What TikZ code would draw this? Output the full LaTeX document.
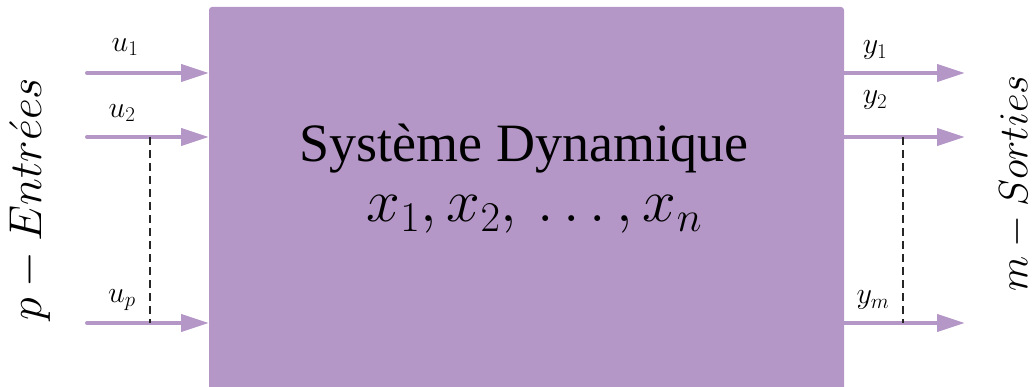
\RequirePackage{fix-cm}
\documentclass[tikz,border=0pt]{standalone}
\usepackage{fontspec}
\newfontfamily\tnr{Liberation Serif}
\usetikzlibrary{arrows.meta}
\definecolor{sysviolet}{RGB}{180,151,199}
\begin{document}
\begin{tikzpicture}[x=1pt,y=-1pt,
  sysbox/.style={fill=sysviolet, draw=none, rounded corners=3pt, anchor=north west, inner sep=0pt, outer sep=0pt},
  sig/.style={draw=sysviolet, line width=4pt, line cap=round, -{Triangle[length=28pt,width=17pt]}},
  guide/.style={draw=black!85, line width=1.1pt, dash pattern=on 8pt off 5pt},
  lbl/.style={inner sep=0pt, font=\fontsize{30}{32}\selectfont},
  side/.style={inner sep=0pt, rotate=90}]
\useasboundingbox (0,0) rectangle (1035,387);
\node[sysbox, minimum width=635pt, minimum height=393pt] (sys) at (209,7) {};
\node[anchor=base, inner sep=0pt, font=\tnr\fontsize{54}{58}\selectfont] (title) at (524,162) {Système Dynamique};
\node[anchor=base, inner sep=0pt, font=\fontsize{60.5}{62}\selectfont] (states) at (534.5,222) {$x_1, x_2,\,\ldots, x_n$};
% inputs
\coordinate (i1) at (87,73);
\coordinate (i2) at (87,137);
\coordinate (ip) at (87,323);
\draw[sig] (i1) -- (i1 -| sys.west);
\draw[sig] (i2) -- (i2 -| sys.west);
\draw[sig] (ip) -- (ip -| sys.west);
% outputs
\coordinate (o1) at (965,73);
\coordinate (o2) at (965,137);
\coordinate (om) at (965,323);
\draw[sig] (o1 -| sys.east) -- (o1);
\draw[sig] (o2 -| sys.east) -- (o2);
\draw[sig] (om -| sys.east) -- (om);
% dashed guides
\coordinate (da) at (150,137);
\coordinate (db) at (150,323);
\coordinate (dc) at (903,137);
\coordinate (dd) at (903,323);
\draw[guide] (da) -- (db);
\draw[guide] (dc) -- (dd);
% labels
\node[lbl] (lu1) at (125,47) {$u_1$};
\node[lbl] (lu2) at (122,113) {$u_2$};
\node[lbl] (lup) at (122,300) {$u_p$};
\node[lbl] (ly1) at (875,50) {$y_1$};
\node[lbl] (ly2) at (875,100) {$y_2$};
\node[lbl] (lym) at (873,300) {$y_m$};
% side labels
\node[side, font=\fontsize{46}{48}\selectfont] (inlab) at (30,199) {$p-Entr\acute{e}es$};
\node[side, font=\fontsize{41}{43}\selectfont] (outlab) at (1015,183.5) {$m-Sorties$};
\end{tikzpicture}
\end{document}
